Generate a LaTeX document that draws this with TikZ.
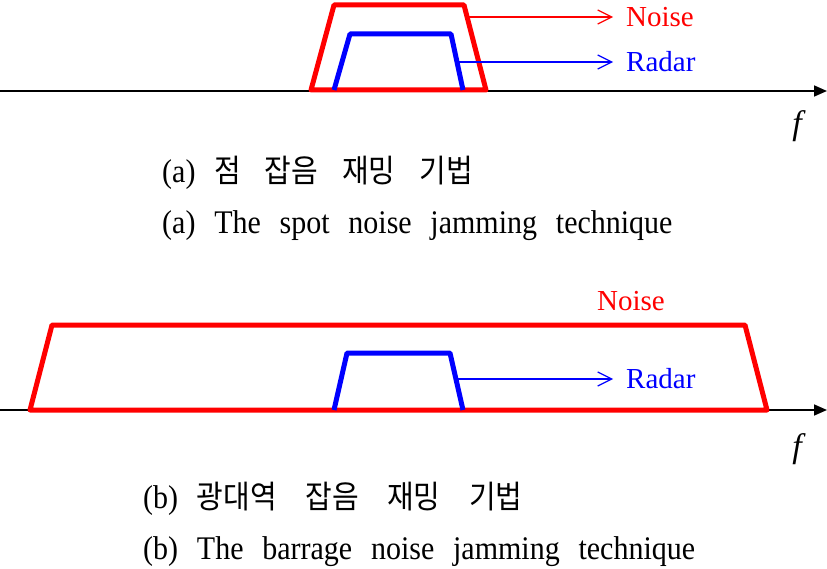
\documentclass[tikz,border=0pt]{standalone}
\usepackage{fontspec}
\setmainfont{Liberation Serif}
\newfontfamily\capfont[WordSpace=2.5]{Liberation Serif}
\newfontfamily\krfont{Noto Sans CJK KR}
\newcommand{\kr}[2][24pt]{{\krfont\fontsize{29}{32}\selectfont\spaceskip=#1\relax #2}}
\usetikzlibrary{arrows.meta}

\begin{document}
\begin{tikzpicture}[
		x=1pt, y=-1pt,
		every node/.style={inner sep=0pt, font=\fontsize{29}{34}\selectfont},
		noise/.style={draw=red, line width=5pt, line join=round},
		radar/.style={draw=blue, line width=5pt, line join=round},
		axis/.style={line width=1.6pt, -{Triangle[length=13pt, width=11pt]}},
		pointer/.style={line width=1.2pt, -{Straight Barb[length=14pt, width=14pt]}},
		tag/.style={anchor=west, inner xsep=13pt},
		caption/.style={anchor=base west, yscale=1.1, font=\fontsize{30}{34}\selectfont\capfont}
	]
  \useasboundingbox (0,0) rectangle (827,569);
  % (a) spot noise
  \coordinate (a_start) at (0,91);
  \coordinate (a_end) at (827,91);
  \draw[axis] (a_start) -- (a_end);
  \draw[noise] (311,90) -- (334,5) -- (464,5) -- (486,90) -- cycle;
  \draw[radar] (334,90) -- (350,34) -- (451,34) -- (463,90);
  \coordinate (a_n) at (468,17);
  \coordinate (a_r) at (457,62);
  \node (noise_a) [tag, text=red] at (613,17) {Noise};
  \node (radar_a) [tag, text=blue] at (613,62) {Radar};
  \draw[pointer, red] (a_n) -- (noise_a.west);
  \draw[pointer, blue] (a_r) -- (radar_a.west);
  \node (f_a) [font=\fontsize{34}{38}\selectfont] at (797,126) {\itshape f};
  \node (cap_a_kr) [caption] at (162,183) {(a) \kr{점 잡음 재밍 기법}};
  \node (cap_a_en) [caption] at (162,234) {(a) The spot noise jamming technique};
  % (b) barrage noise
  \coordinate (b_start) at (0,410);
  \coordinate (b_end) at (827,410);
  \draw[axis] (b_start) -- (b_end);
  \draw[noise] (30,410) -- (52,325) -- (745,325) -- (767,410) -- cycle;
  \draw[radar] (334,410) -- (347,353) -- (450,353) -- (463,410);
  \coordinate (b_r) at (457,379);
  \node (noise_b) [text=red] at (631,301) {Noise};
  \node (radar_b) [tag, text=blue] at (613,379) {Radar};
  \draw[pointer, blue] (b_r) -- (radar_b.west);
  \node (f_b) [font=\fontsize{34}{38}\selectfont] at (797,449) {\itshape f};
  \node (cap_b_kr) [caption] at (143,508) {(b) \kr[28.5pt]{광대역 잡음 재밍 기법}};
  \node (cap_b_en) [caption] at (143,559) {(b) The barrage noise jamming technique};
\end{tikzpicture}
\end{document}
